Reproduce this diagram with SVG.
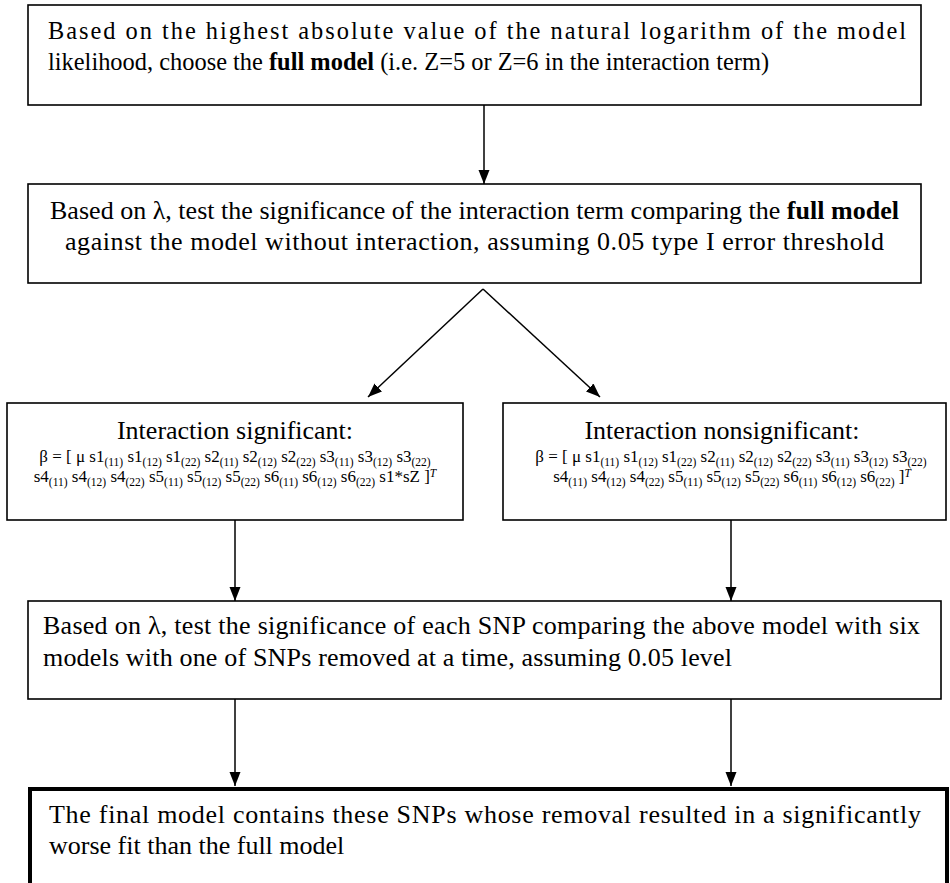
<svg xmlns="http://www.w3.org/2000/svg" width="950" height="883" viewBox="0 0 950 883">
<style>
.box{fill:#fff;stroke:#000;stroke-width:1.6}
.thick{fill:#fff;stroke:#000;stroke-width:4}
.t{font-family:"Liberation Serif","Times New Roman",serif;font-size:24.4px;fill:#000}
.t2{font-family:"Liberation Serif","Times New Roman",serif;font-size:26px;fill:#000}
.title{font-family:"Liberation Serif","Times New Roman",serif;font-size:26px;fill:#000}
.eq{font-family:"Liberation Serif","Times New Roman",serif;font-size:17px;fill:#000}
.sub{font-size:11.5px}
.b{font-weight:bold}
.conn{stroke:#000;stroke-width:1.5;fill:none;marker-end:url(#ah)}
</style>
<defs>
<marker id="ah" markerUnits="userSpaceOnUse" markerWidth="15" markerHeight="12" refX="14" refY="5.5" orient="auto">
<path d="M0,0 L14,5.5 L0,11 z" fill="#000"/>
</marker>
</defs>
<rect width="950" height="883" fill="#fff"/>
<g id="n1">
<rect class="box" x="28" y="5" width="893" height="100"/>
<text class="t" x="48" y="39" textLength="858" lengthAdjust="spacing">Based on the highest absolute value of the natural logarithm of the model</text>
<text class="t" x="48" y="70" textLength="721" lengthAdjust="spacing">likelihood, choose the <tspan class="b">full model</tspan> (i.e. Z=5 or Z=6 in the interaction term)</text>
</g>
<g id="n2">
<rect class="box" x="28" y="184" width="893" height="99"/>
<text class="t2" x="50" y="219" textLength="849" lengthAdjust="spacing">Based on λ, test the significance of the interaction term comparing the <tspan class="b">full model</tspan></text>
<text class="t2" x="65" y="250" textLength="819" lengthAdjust="spacing">against the model without interaction, assuming 0.05 type I error threshold</text>
</g>
<g id="n3a">
<rect class="box" x="7" y="403" width="456" height="117"/>
<text class="title" x="235" y="439" text-anchor="middle">Interaction significant:</text>
<text class="eq" x="235" y="462" text-anchor="middle"><tspan>β = [ μ s1</tspan><tspan class="sub" baseline-shift="-3.5">(11)</tspan><tspan> s1</tspan><tspan class="sub" baseline-shift="-3.5">(12)</tspan><tspan> s1</tspan><tspan class="sub" baseline-shift="-3.5">(22)</tspan><tspan> s2</tspan><tspan class="sub" baseline-shift="-3.5">(11)</tspan><tspan> s2</tspan><tspan class="sub" baseline-shift="-3.5">(12)</tspan><tspan> s2</tspan><tspan class="sub" baseline-shift="-3.5">(22)</tspan><tspan> s3</tspan><tspan class="sub" baseline-shift="-3.5">(11)</tspan><tspan> s3</tspan><tspan class="sub" baseline-shift="-3.5">(12)</tspan><tspan> s3</tspan><tspan class="sub" baseline-shift="-3.5">(22)</tspan></text>
<text class="eq" x="235" y="482" text-anchor="middle"><tspan>s4</tspan><tspan class="sub" baseline-shift="-3.5">(11)</tspan><tspan> s4</tspan><tspan class="sub" baseline-shift="-3.5">(12)</tspan><tspan> s4</tspan><tspan class="sub" baseline-shift="-3.5">(22)</tspan><tspan> s5</tspan><tspan class="sub" baseline-shift="-3.5">(11)</tspan><tspan> s5</tspan><tspan class="sub" baseline-shift="-3.5">(12)</tspan><tspan> s5</tspan><tspan class="sub" baseline-shift="-3.5">(22)</tspan><tspan> s6</tspan><tspan class="sub" baseline-shift="-3.5">(11)</tspan><tspan> s6</tspan><tspan class="sub" baseline-shift="-3.5">(12)</tspan><tspan> s6</tspan><tspan class="sub" baseline-shift="-3.5">(22)</tspan><tspan> s1*sZ ]</tspan><tspan class="sub" font-style="italic" baseline-shift="5">T</tspan></text>
</g>
<g id="n3b">
<rect class="box" x="503" y="403" width="443" height="117"/>
<text class="title" x="722" y="439" text-anchor="middle">Interaction nonsignificant:</text>
<text class="eq" x="731" y="462" text-anchor="middle"><tspan>β = [ μ s1</tspan><tspan class="sub" baseline-shift="-3.5">(11)</tspan><tspan> s1</tspan><tspan class="sub" baseline-shift="-3.5">(12)</tspan><tspan> s1</tspan><tspan class="sub" baseline-shift="-3.5">(22)</tspan><tspan> s2</tspan><tspan class="sub" baseline-shift="-3.5">(11)</tspan><tspan> s2</tspan><tspan class="sub" baseline-shift="-3.5">(12)</tspan><tspan> s2</tspan><tspan class="sub" baseline-shift="-3.5">(22)</tspan><tspan> s3</tspan><tspan class="sub" baseline-shift="-3.5">(11)</tspan><tspan> s3</tspan><tspan class="sub" baseline-shift="-3.5">(12)</tspan><tspan> s3</tspan><tspan class="sub" baseline-shift="-3.5">(22)</tspan></text>
<text class="eq" x="732" y="482" text-anchor="middle"><tspan>s4</tspan><tspan class="sub" baseline-shift="-3.5">(11)</tspan><tspan> s4</tspan><tspan class="sub" baseline-shift="-3.5">(12)</tspan><tspan> s4</tspan><tspan class="sub" baseline-shift="-3.5">(22)</tspan><tspan> s5</tspan><tspan class="sub" baseline-shift="-3.5">(11)</tspan><tspan> s5</tspan><tspan class="sub" baseline-shift="-3.5">(12)</tspan><tspan> s5</tspan><tspan class="sub" baseline-shift="-3.5">(22)</tspan><tspan> s6</tspan><tspan class="sub" baseline-shift="-3.5">(11)</tspan><tspan> s6</tspan><tspan class="sub" baseline-shift="-3.5">(12)</tspan><tspan> s6</tspan><tspan class="sub" baseline-shift="-3.5">(22)</tspan><tspan> ]</tspan><tspan class="sub" font-style="italic" baseline-shift="5">T</tspan></text>
</g>
<g id="n4">
<rect class="box" x="28" y="601" width="913" height="98"/>
<text class="t2" x="43" y="634" textLength="877" lengthAdjust="spacing">Based on λ, test the significance of each SNP comparing the above model with six</text>
<text class="t2" x="43" y="666" textLength="689" lengthAdjust="spacing">models with one of SNPs removed at a time, assuming 0.05 level</text>
</g>
<g id="n5">
<rect class="thick" x="30" y="789" width="917" height="130"/>
<text class="t2" x="49" y="823" textLength="872" lengthAdjust="spacing">The final model contains these SNPs whose removal resulted in a significantly</text>
<text class="t2" x="49" y="854">worse fit than the full model</text>
</g>
<g id="connectors">
<path class="conn" d="M484,105 L484,184"/>
<path class="conn" d="M483,289 L368,397"/>
<path class="conn" d="M483,289 L600,397"/>
<path class="conn" d="M235,520 L235,601"/>
<path class="conn" d="M731,520 L731,601"/>
<path class="conn" d="M235,699 L235,786"/>
<path class="conn" d="M731,699 L731,786"/>
</g>
</svg>
